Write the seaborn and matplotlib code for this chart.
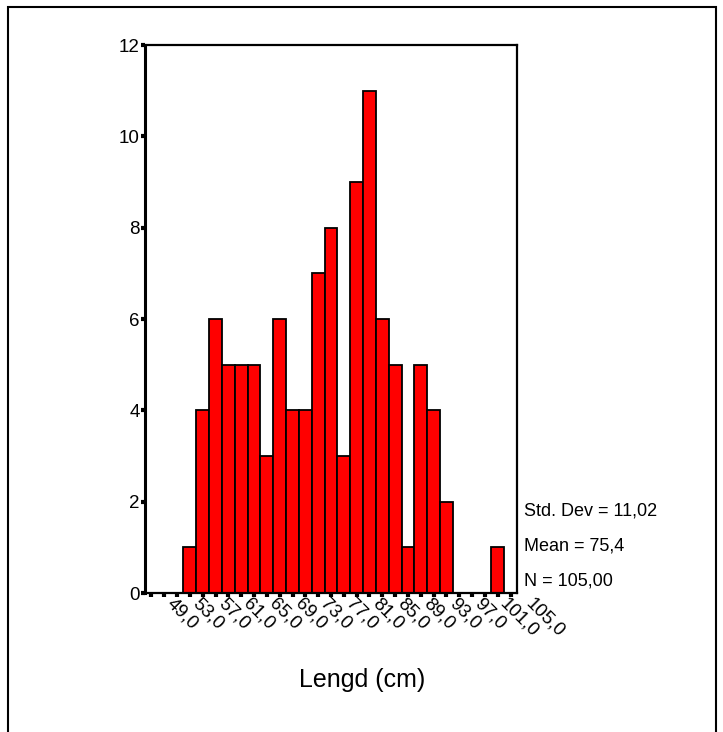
import numpy as np
import pandas as pd
import seaborn as sns
import matplotlib.pyplot as plt
import matplotlib.transforms as mtransforms
from matplotlib.patches import Rectangle

# Data: histogram of lengths, bin width 2 cm (bin midpoints)
bin_mids = [55, 57, 59, 61, 63, 65, 67, 69, 71, 73, 75, 77, 79,
            81, 83, 85, 87, 89, 91, 93, 95, 97, 99, 101, 103]
counts = [1, 4, 6, 5, 5, 5, 3, 6, 4, 4, 7, 8, 3,
          9, 11, 6, 5, 1, 5, 4, 2, 0, 0, 0, 1]
tick_values = [49, 53, 57, 61, 65, 69, 73, 77, 81, 85, 89, 93, 97, 101, 105]
tick_labels = ['49,0', '53,0', '57,0', '61,0', '65,0', '69,0', '73,0', '77,0',
               '81,0', '85,0', '89,0', '93,0', '97,0', '101,0', '105,0']
stats_lines = ['Std. Dev = 11,02', 'Mean = 75,4', 'N = 105,00']
x_label = 'Lengd (cm)'

sns.set_theme(style='white')
plt.rcParams['font.family'] = ['Liberation Sans', 'DejaVu Sans']
plt.rcParams['text.color'] = 'black'
plt.rcParams['axes.labelcolor'] = 'black'
plt.rcParams['xtick.color'] = 'black'
plt.rcParams['ytick.color'] = 'black'

df = pd.DataFrame({'length': bin_mids, 'count': counts})

fig = plt.figure(figsize=(7.23, 7.32), dpi=100)
ax = fig.add_axes([145 / 723, 1 - 593 / 732, 372 / 723, 548 / 732])

sns.histplot(data=df, x='length', weights='count', binwidth=2, binrange=(54, 104),
             color='#ff0000', alpha=1, edgecolor='black', linewidth=1.3, ax=ax)

ax.set_xlim(48, 106)
ax.set_ylim(0, 12)
ax.set_yticks([0, 2, 4, 6, 8, 10, 12])
ax.set_yticklabels(['0', '2', '4', '6', '8', '10', '12'], fontsize=13.5)
ax.set_ylabel('')

# ticks at every bin midpoint, labels every second one
ax.set_xticks(tick_values)
ax.set_xticks(np.arange(51, 106, 4), minor=True)
ax.set_xticklabels([])
offset = mtransforms.ScaledTranslation(0.12, -0.02, fig.dpi_scale_trans)
for v, lab in zip(tick_values, tick_labels):
    ax.text(v, 0, lab, fontsize=13.5, rotation=-45, ha='left', va='top',
            transform=ax.get_xaxis_transform() + offset)

ax.tick_params(axis='both', which='both', direction='out', length=3, width=3,
               color='black', bottom=True, left=True)
ax.tick_params(axis='y', pad=0.8)

for sp in ax.spines.values():
    sp.set_visible(True)
    sp.set_color('black')
    sp.set_linewidth(1.6)
ax.spines['left'].set_linewidth(2.2)

ax.set_xlabel(x_label, fontsize=18)
ax.xaxis.set_label_coords(0.583, -0.137)

for i, line in enumerate(stats_lines):
    fig.text(524 / 723, 1 - (511 + 35 * i) / 732, line, fontsize=13,
             ha='left', va='center')

# outer frame (bottom edge cut off by the image)
fig.patches.append(Rectangle((8 / 723, -0.05), 708 / 723, 1.05 - 7 / 732,
                             transform=fig.transFigure, fill=False,
                             edgecolor='black', linewidth=1.5))

fig.savefig('out.png', dpi=100)
plt.close(fig)
